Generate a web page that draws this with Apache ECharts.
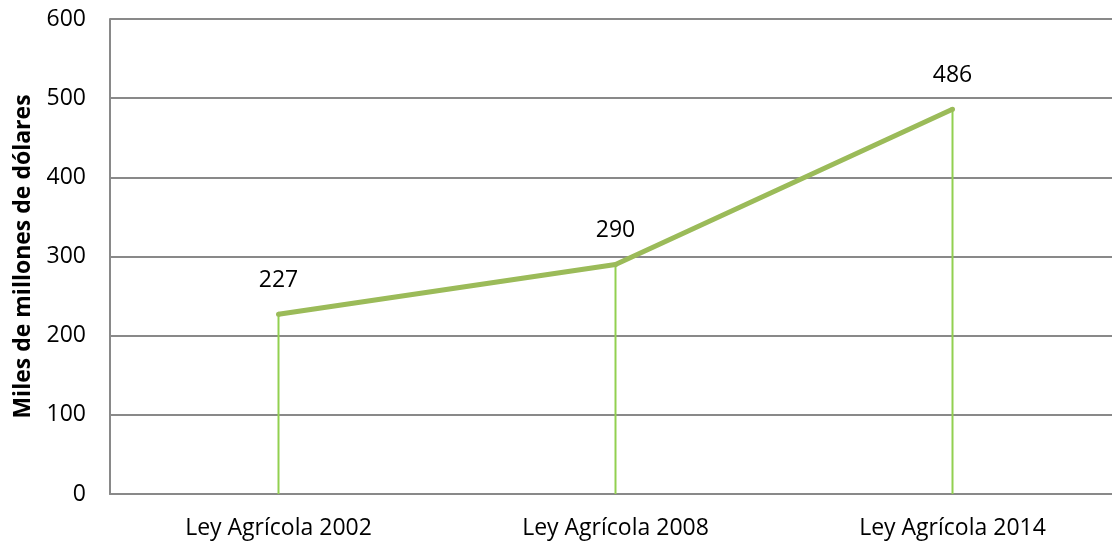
<!DOCTYPE html>
<html><head><meta charset="utf-8">
<script src="https://cdn.jsdelivr.net/npm/echarts@6/dist/echarts.min.js"></script>
<style>html,body{margin:0;padding:0;background:#fff}#c{width:1112px;height:542px}</style>
</head><body><div id="c"></div>
<script>
const categories = ['Ley Agrícola 2002', 'Ley Agrícola 2008', 'Ley Agrícola 2014'];
const values = [227, 290, 486];
const yTicks = { min: 0, max: 600, interval: 100 };
const yTitle = 'Miles de millones de dólares';

const chart = echarts.init(document.getElementById('c'));
const font = '"Open Sans", "Liberation Sans", sans-serif';
chart.setOption({
  animation: false,
  grid: { left: 110, width: 1011, top: 19, bottom: 48, containLabel: false, outerBoundsMode: 'none' },
  xAxis: {
    type: 'category', data: categories, boundaryGap: true,
    axisLine: { lineStyle: { color: '#898989', width: 2 } },
    axisTick: { show: false },
    axisLabel: { color: '#000', fontSize: 23, fontFamily: font, margin: 23 }
  },
  yAxis: {
    type: 'value', min: yTicks.min, max: yTicks.max, interval: yTicks.interval,
    name: yTitle, nameLocation: 'middle', nameGap: 75, nameRotate: 90,
    nameTextStyle: { color: '#000', fontSize: 23, fontWeight: 'bold', fontFamily: font },
    axisLine: { show: true, lineStyle: { color: '#898989', width: 2 } },
    axisTick: { show: false },
    axisLabel: { color: '#000', fontSize: 23, fontFamily: font, margin: 24 },
    splitLine: { lineStyle: { color: '#898989', width: 2 } }
  },
  series: [
    {
      type: 'bar', data: values, barWidth: 2, silent: true,
      itemStyle: { color: '#92D050' }, z: 1
    },
    {
      type: 'line', data: values, symbol: 'circle', symbolSize: 5, showSymbol: true, z: 3,
      itemStyle: { color: '#9BBB59' },
      lineStyle: { color: '#9BBB59', width: 5 },
      label: { show: true, position: 'top', distance: 20, color: '#000', fontSize: 23, fontFamily: font }
    }
  ]
});
</script></body></html>
